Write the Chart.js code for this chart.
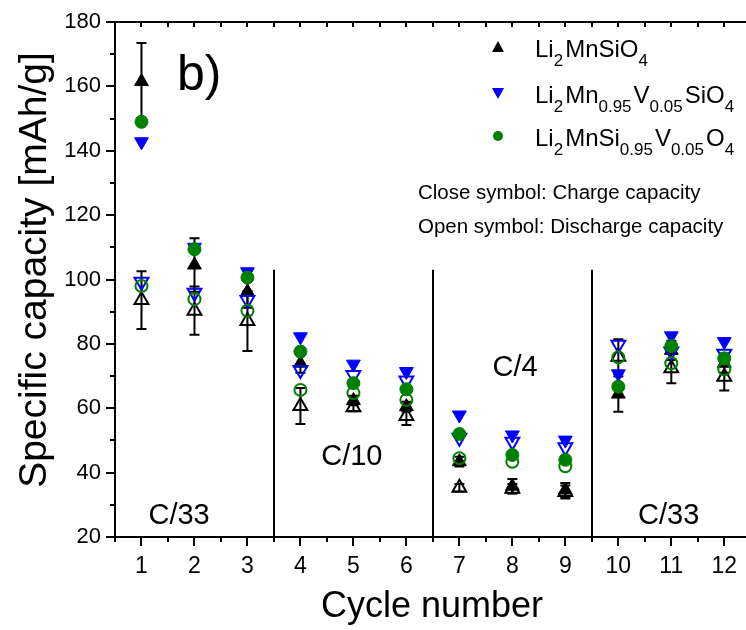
<!DOCTYPE html>
<html>
<head>
<meta charset="utf-8">
<script src="https://cdn.jsdelivr.net/npm/chart.js@4.4.1/dist/chart.umd.min.js"></script>
<style>
  html, body { margin: 0; padding: 0; background: #ffffff; }
  #wrap { width: 746px; height: 630px; }
</style>
</head>
<body>
<div id="wrap"><canvas id="c" width="746" height="630"></canvas></div>
<script>
// ---- data ----
const cycles = [1, 2, 3, 4, 5, 6, 7, 8, 9, 10, 11, 12];
const xTickLabels = ['1', '2', '3', '4', '5', '6', '7', '8', '9', '10', '11', '12'];
const yTickValues = [20, 40, 60, 80, 100, 120, 140, 160, 180];
const yTickLabels = ['20', '40', '60', '80', '100', '120', '140', '160', '180'];

// Li2MnSiO4 (black)
const mnCharge       = [161.5, 104.5, 96.2, 74.0, 62.4, 60.5, 43.4, 35.8, 34.6, 64.4, 78.0, 74.0];
const mnChargeErr    = [12.0, 8.3, 5.0, 3.0, 1.5, 1.5, 1.5, 2.2, 2.2, 5.5, 3.0, 3.0];
const mnDischarge    = [93.6, 90.3, 87.1, 60.7, 60.3, 57.6, 35.3, 35.0, 34.0, 76.0, 72.4, 69.8];
const mnDischargeErr = [9.0, 7.5, 9.3, 5.6, 1.2, 2.8, 1.2, 1.5, 2.0, 5.4, 4.6, 4.3];
// Li2Mn0.95V0.05SiO4 (blue)
const mnvCharge      = [142.8, 110.0, 102.4, 82.2, 73.7, 71.4, 57.9, 51.7, 50.1, 70.7, 82.5, 80.7];
const mnvDischarge   = [99.3, 95.9, 93.6, 71.9, 70.3, 68.6, 50.8, 49.6, 47.9, 79.7, 77.6, 76.9];
// Li2MnSi0.95V0.05O4 (green)
const msvCharge      = [149.0, 109.4, 100.6, 77.6, 67.8, 65.9, 52.0, 45.5, 44.0, 66.7, 79.3, 75.5];
const msvDischarge   = [98.0, 93.9, 90.3, 65.7, 64.7, 62.6, 44.5, 43.4, 42.0, 75.8, 74.0, 72.1];

// rate regions
const separators = [3.5, 6.5, 9.5];
const separatorTop = 103;
const rateLabels = [
  { text: 'C/33', x: 1.71, y: 26.5 },
  { text: 'C/10', x: 4.97, y: 45 },
  { text: 'C/4',  x: 8.05, y: 72.5 },
  { text: 'C/33', x: 10.95, y: 26.5 }
];
const xTitle = 'Cycle number';
const yTitle = 'Specific capacity [mAh/g]';

const BLACK = '#000000', BLUE = '#0000ff', GREEN = '#008000';
const FONT = '"Liberation Sans", Arial, Helvetica, sans-serif';

function pts(arr) { return cycles.map((c, i) => ({ x: c, y: arr[i] })); }

const datasets = [
  { label: 'msvD', data: pts(msvDischarge), pointStyle: 'circle', radius: 6, borderColor: GREEN, backgroundColor: 'rgba(0,0,0,0)', borderWidth: 2 },
  { label: 'msvC', data: pts(msvCharge), pointStyle: 'circle', radius: 6.5, borderColor: GREEN, backgroundColor: GREEN, borderWidth: 1 },
  { label: 'mnvD', data: pts(mnvDischarge), pointStyle: 'triangle', rotation: 180, radius: 8, borderColor: BLUE, backgroundColor: 'rgba(0,0,0,0)', borderWidth: 2 },
  { label: 'mnvC', data: pts(mnvCharge), pointStyle: 'triangle', rotation: 180, radius: 8, borderColor: BLUE, backgroundColor: BLUE, borderWidth: 1 },
  { label: 'mnD', data: pts(mnDischarge), pointStyle: 'triangle', radius: 8, borderColor: BLACK, backgroundColor: 'rgba(0,0,0,0)', borderWidth: 2, err: mnDischargeErr },
  { label: 'mnC', data: pts(mnCharge), pointStyle: 'triangle', radius: 8, borderColor: BLACK, backgroundColor: BLACK, borderWidth: 1, err: mnChargeErr }
].map(d => Object.assign({ showLine: false, clip: false, pointRadius: d.radius, pointHoverRadius: d.radius, pointStyle: d.pointStyle, pointRotation: d.rotation || 0, pointBorderWidth: d.borderWidth }, d));

const decor = {
  id: 'decor',
  beforeDatasetsDraw(chart) {
    const ctx = chart.ctx, xs = chart.scales.x, ys = chart.scales.y, a = chart.chartArea;
    ctx.save();
    ctx.strokeStyle = '#000';
    ctx.lineWidth = 2;
    separators.forEach(s => {
      const px = Math.round(xs.getPixelForValue(s));
      ctx.beginPath();
      ctx.moveTo(px, ys.getPixelForValue(separatorTop));
      ctx.lineTo(px, a.bottom);
      ctx.stroke();
    });
    chart.data.datasets.forEach(ds => {
      if (!ds.err) return;
      ds.data.forEach((p, i) => {
        const px = xs.getPixelForValue(p.x);
        const y1 = ys.getPixelForValue(p.y + ds.err[i]);
        const y2 = ys.getPixelForValue(p.y - ds.err[i]);
        ctx.beginPath();
        ctx.moveTo(px, y1); ctx.lineTo(px, y2);
        ctx.moveTo(px - 5, y1); ctx.lineTo(px + 5, y1);
        ctx.moveTo(px - 5, y2); ctx.lineTo(px + 5, y2);
        ctx.stroke();
      });
    });
    ctx.restore();
  },
  afterDraw(chart) {
    const ctx = chart.ctx, xs = chart.scales.x, ys = chart.scales.y, a = chart.chartArea;
    ctx.save();
    ctx.strokeStyle = '#000';
    ctx.lineWidth = 2;
    ctx.beginPath();
    ctx.moveTo(a.left, a.top); ctx.lineTo(a.left, a.bottom);
    ctx.moveTo(a.left - 1, a.bottom); ctx.lineTo(a.right, a.bottom);
    ctx.moveTo(a.left - 1, a.top); ctx.lineTo(a.right, a.top);
    ctx.stroke();
    for (let v = 20; v <= 180; v += 10) {
      const py = Math.round(ys.getPixelForValue(v));
      const len = (v % 20 === 0) ? 9 : 5;
      ctx.beginPath(); ctx.moveTo(a.left, py); ctx.lineTo(a.left - len, py); ctx.stroke();
    }
    for (let v = 0.5; v <= 12.5; v += 0.5) {
      const px = Math.round(xs.getPixelForValue(v));
      if (px > a.right) continue;
      const len = (v % 1 === 0) ? 9 : 5;
      ctx.beginPath(); ctx.moveTo(px, a.bottom); ctx.lineTo(px, a.bottom + len); ctx.stroke();
      ctx.beginPath(); ctx.moveTo(px, a.top); ctx.lineTo(px, a.top + 5); ctx.stroke();
    }
    ctx.fillStyle = '#000';
    // tick labels
    ctx.font = '22px ' + FONT;
    ctx.textAlign = 'right'; ctx.textBaseline = 'middle';
    yTickValues.forEach((v, i) => ctx.fillText(yTickLabels[i], a.left - 14, ys.getPixelForValue(v)));
    ctx.font = '23px ' + FONT;
    ctx.textAlign = 'center';
    cycles.forEach((v, i) => ctx.fillText(xTickLabels[i], xs.getPixelForValue(v), a.bottom + 30));
    // axis titles
    ctx.font = '36px ' + FONT;
    ctx.textBaseline = 'alphabetic';
    ctx.fillText(xTitle, 432, 617);
    ctx.save();
    ctx.translate(46, 270);
    ctx.rotate(-Math.PI / 2);
    ctx.font = '39px ' + FONT;
    ctx.fillText(yTitle, 0, 0);
    ctx.restore();
    // rate labels
    ctx.font = '29px ' + FONT;
    ctx.textAlign = 'center'; ctx.textBaseline = 'middle';
    rateLabels.forEach(r => ctx.fillText(r.text, xs.getPixelForValue(r.x), ys.getPixelForValue(r.y)));
    ctx.font = '50px ' + FONT;
    ctx.textAlign = 'left'; ctx.textBaseline = 'alphabetic';
    ctx.fillText('b)', 177, 90);
    // legend
    const rows = [
      { y: 47, style: 'up', color: BLACK, parts: [['Li', 0], ['2', 1], ['MnSiO', 0], ['4', 1]] },
      { y: 93, style: 'down', color: BLUE, parts: [['Li', 0], ['2', 1], ['Mn', 0], ['0.95', 1], ['V', 0], ['0.05', 1], ['SiO', 0], ['4', 1]] },
      { y: 136, style: 'circle', color: GREEN, parts: [['Li', 0], ['2', 1], ['MnSi', 0], ['0.95', 1], ['V', 0], ['0.05', 1], ['O', 0], ['4', 1]] }
    ];
    rows.forEach(r => {
      const mx = 498, my = r.y;
      ctx.fillStyle = r.color;
      ctx.beginPath();
      if (r.style === 'up') {
        ctx.moveTo(mx, my - 6); ctx.lineTo(mx + 6, my + 5); ctx.lineTo(mx - 6, my + 5);
      } else if (r.style === 'down') {
        ctx.moveTo(mx, my + 6); ctx.lineTo(mx + 6, my - 5); ctx.lineTo(mx - 6, my - 5);
      } else {
        ctx.arc(mx, my, 5, 0, Math.PI * 2);
      }
      ctx.closePath(); ctx.fill();
      let tx = 535;
      const base = r.y + 10;
      ctx.fillStyle = '#000';
      let prevSub = false;
      r.parts.forEach(([t, sub]) => {
        if (!sub && prevSub) tx += 2;
        ctx.font = (sub ? '17px ' : '24px ') + FONT;
        ctx.fillText(t, tx, sub ? base + 9 : base);
        tx += ctx.measureText(t).width;
        prevSub = !!sub;
      });
    });
    ctx.font = '20.5px ' + FONT;
    ctx.fillStyle = '#000';
    ctx.fillText('Close symbol: Charge capacity', 418, 199);
    ctx.fillText('Open symbol: Discharge capacity', 418, 233);
    ctx.restore();
  }
};

new Chart(document.getElementById('c'), {
  type: 'scatter',
  data: { datasets },
  options: {
    responsive: false,
    animation: false,
    devicePixelRatio: 1,
    layout: { autoPadding: false, padding: { top: 22, left: 0, right: 0, bottom: 0 } },
    plugins: { legend: { display: false }, tooltip: { enabled: false } },
    scales: {
      x: {
        type: 'linear', min: 0.5, max: 12.41,
        afterBuildTicks: s => { s.ticks = cycles.map(v => ({ value: v })); },
        afterFit: s => { s.height = 93; },
        grid: { display: false }, border: { display: false },
        ticks: { display: false },
        title: { display: false }
      },
      y: {
        type: 'linear', min: 20, max: 180,
        afterBuildTicks: s => { s.ticks = yTickValues.map(v => ({ value: v })); },
        afterFit: s => { s.width = 115; },
        grid: { display: false }, border: { display: false },
        ticks: { display: false },
        title: { display: false }
      }
    }
  },
  plugins: [decor]
});
</script>
</body>
</html>
